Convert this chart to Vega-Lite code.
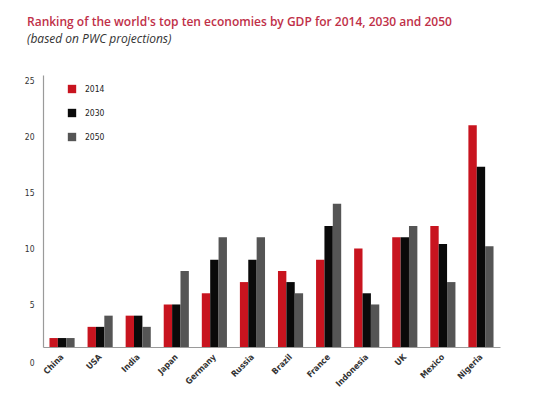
{
  "$schema": "https://vega.github.io/schema/vega-lite/v6.json",
  "autosize": {"type": "none"},
  "padding": {"left": 43, "top": 75, "right": 40, "bottom": 49},
  "width": 457,
  "height": 272,
  "background": "white",
  "title": {
    "text": "Ranking of the world's top ten economies by GDP for 2014, 2030 and 2050",
    "subtitle": "(based on PWC projections)",
    "anchor": "start",
    "frame": "group",
    "dx": -16,
    "offset": 29,
    "font": "Open Sans",
    "fontSize": 12,
    "fontWeight": 600,
    "color": "#c03048",
    "subtitleFont": "Open Sans",
    "subtitleFontSize": 12,
    "subtitleFontStyle": "italic",
    "subtitleColor": "#333333",
    "subtitlePadding": 5
  },
  "config": {"view": {"stroke": null}},
  "data": {
    "values": [
      {"country": "China", "year": "2014", "rank": 2},
      {"country": "China", "year": "2030", "rank": 2},
      {"country": "China", "year": "2050", "rank": 2},
      {"country": "USA", "year": "2014", "rank": 3},
      {"country": "USA", "year": "2030", "rank": 3},
      {"country": "USA", "year": "2050", "rank": 4},
      {"country": "India", "year": "2014", "rank": 4},
      {"country": "India", "year": "2030", "rank": 4},
      {"country": "India", "year": "2050", "rank": 3},
      {"country": "Japan", "year": "2014", "rank": 5},
      {"country": "Japan", "year": "2030", "rank": 5},
      {"country": "Japan", "year": "2050", "rank": 8},
      {"country": "Germany", "year": "2014", "rank": 6},
      {"country": "Germany", "year": "2030", "rank": 9},
      {"country": "Germany", "year": "2050", "rank": 11},
      {"country": "Russia", "year": "2014", "rank": 7},
      {"country": "Russia", "year": "2030", "rank": 9},
      {"country": "Russia", "year": "2050", "rank": 11},
      {"country": "Brazil", "year": "2014", "rank": 8},
      {"country": "Brazil", "year": "2030", "rank": 7},
      {"country": "Brazil", "year": "2050", "rank": 6},
      {"country": "France", "year": "2014", "rank": 9},
      {"country": "France", "year": "2030", "rank": 12},
      {"country": "France", "year": "2050", "rank": 14},
      {"country": "Indonesia", "year": "2014", "rank": 10},
      {"country": "Indonesia", "year": "2030", "rank": 6},
      {"country": "Indonesia", "year": "2050", "rank": 5},
      {"country": "UK", "year": "2014", "rank": 11},
      {"country": "UK", "year": "2030", "rank": 11},
      {"country": "UK", "year": "2050", "rank": 12},
      {"country": "Mexico", "year": "2014", "rank": 12},
      {"country": "Mexico", "year": "2030", "rank": 10.4},
      {"country": "Mexico", "year": "2050", "rank": 7},
      {"country": "Nigeria", "year": "2014", "rank": 21},
      {"country": "Nigeria", "year": "2030", "rank": 17.3},
      {"country": "Nigeria", "year": "2050", "rank": 10.2}
    ]
  },
  "mark": {"type": "bar", "clip": true},
  "encoding": {
    "x": {
      "field": "country",
      "type": "nominal",
      "sort": null,
      "scale": {"paddingInner": 0.34, "paddingOuter": 0.17},
      "axis": {
        "title": null,
        "labelAngle": -45,
        "labelAlign": "right",
        "labelBaseline": "middle",
        "labelFont": "DejaVu Sans Condensed, Liberation Sans, sans-serif",
        "labelFontSize": 8.5,
        "labelFontWeight": "bold",
        "labelColor": "#333333",
        "labelPadding": 8,
        "ticks": false,
        "domainColor": "#9a9a9a",
        "domainWidth": 1.2
      }
    },
    "xOffset": {"field": "year", "type": "nominal", "scale": {"paddingInner": 0}},
    "y": {
      "field": "rank",
      "type": "quantitative",
      "scale": {"domain": [1.2, 25.5], "zero": false, "nice": false},
      "axis": {
        "title": null,
        "values": [1.2, 5, 10, 15, 20, 25],
        "labelExpr": "datum.value < 2 ? '0' : datum.label",
        "labelOffset": {"condition": {"test": "datum.value < 2", "value": 15}, "value": 0},
        "grid": false,
        "ticks": false,
        "labelFont": "DejaVu Sans Condensed, Liberation Sans, sans-serif",
        "labelFontSize": 8.5,
        "labelColor": "#333333",
        "labelPadding": 9,
        "domainColor": "#9a9a9a",
        "domainWidth": 1.2
      }
    },
    "color": {
      "field": "year",
      "type": "nominal",
      "scale": {"domain": ["2014", "2030", "2050"], "range": ["#c8141f", "#0a0a0a", "#555555"]},
      "legend": {
        "title": null,
        "orient": "none",
        "legendX": 24,
        "legendY": 9,
        "symbolType": "square",
        "symbolSize": 70,
        "rowPadding": 14,
        "labelFont": "DejaVu Sans Condensed, Liberation Sans, sans-serif",
        "labelFontSize": 8.5,
        "labelColor": "#222222",
        "labelOffset": 8
      }
    }
  }
}
